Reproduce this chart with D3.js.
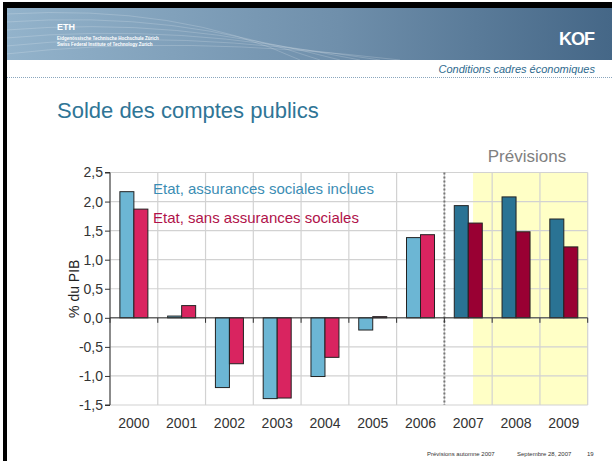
<!DOCTYPE html>
<html>
<head>
<meta charset="utf-8">
<script src="https://cdn.jsdelivr.net/npm/d3@7"></script>
<style>
  body { margin: 0; background: #fff; }
  svg { display: block; font-family: "Liberation Sans", Arial, sans-serif; }
</style>
</head>
<body>
<div id="chart"></div>
<script>
// data
const years = ["2000","2001","2002","2003","2004","2005","2006","2007","2008","2009"];
const avecAS = [2.17, 0.03, -1.20, -1.39, -1.01, -0.21, 1.38, 1.93, 2.08, 1.70];
const sansAS = [1.87, 0.21, -0.79, -1.38, -0.68, 0.02, 1.43, 1.63, 1.48, 1.22];
const yTicks = [-1.5, -1.0, -0.5, 0.0, 0.5, 1.0, 1.5, 2.0, 2.5];
const forecastYears = ["2008","2009"];  // shaded
const firstForecast = "2007";

const width = 612, height = 461;
const svg = d3.select("#chart").append("svg")
  .attr("width", width).attr("height", height);

// ****** page decoration (slide) ******
const defs = svg.append("defs");
const grad = defs.append("linearGradient").attr("id", "hdr").attr("x1", 0).attr("x2", 1);
grad.append("stop").attr("offset", "0%").attr("stop-color", "#93b3cb");
grad.append("stop").attr("offset", "55%").attr("stop-color", "#6f8fab");
grad.append("stop").attr("offset", "100%").attr("stop-color", "#456787");

svg.append("rect").attr("x", 6).attr("y", 7).attr("width", width - 6).attr("height", 53)
  .attr("fill", "url(#hdr)");
// some faint swoosh lines in the header
for (let i = 0; i < 6; i++) {
  svg.append("path")
    .attr("d", `M${6},${14 + i * 8} Q${180},${4 + i * 6} ${300 + i * 20},${60}`)
    .attr("fill", "none").attr("stroke", "#ffffff").attr("stroke-opacity", 0.18).attr("stroke-width", 1);
}
// borders
svg.append("rect").attr("x", 3).attr("y", 2).attr("width", width - 3).attr("height", 6).attr("fill", "#000");
svg.append("rect").attr("x", 3).attr("y", 2).attr("width", 4).attr("height", height - 2).attr("fill", "#000");

// ETH logo (tiny white text)
svg.append("text").attr("x", 57).attr("y", 30).attr("fill", "#fff")
  .style("font-size", "9px").style("font-weight", "bold").text("ETH");
svg.append("text").attr("x", 57).attr("y", 40).attr("fill", "#fff")
  .style("font-size", "4.5px").style("font-weight", "bold").text("Eidgenössische Technische Hochschule Zürich");
svg.append("text").attr("x", 57).attr("y", 46).attr("fill", "#fff")
  .style("font-size", "4.5px").style("font-weight", "bold").text("Swiss Federal Institute of Technology Zurich");

svg.append("text").attr("x", 594).attr("y", 45).attr("text-anchor", "end").attr("fill", "#fff")
  .style("font-size", "18px").style("font-weight", "bold").style("letter-spacing", "-1px").text("KOF");

svg.append("text").attr("x", 595).attr("y", 73).attr("text-anchor", "end").attr("fill", "#2e6a8e")
  .style("font-size", "11px").style("font-style", "italic").text("Conditions cadres économiques");
svg.append("line").attr("x1", 7).attr("x2", width).attr("y1", 77.5).attr("y2", 77.5)
  .attr("stroke", "#8aa6bd").attr("stroke-dasharray", "1,1");

svg.append("text").attr("x", 57).attr("y", 118).attr("fill", "#2f7596")
  .style("font-size", "22px").text("Solde des comptes publics");

svg.append("text").attr("x", 427).attr("y", 456).attr("fill", "#333")
  .style("font-size", "6px").text("Prévisions automne 2007");
svg.append("text").attr("x", 517).attr("y", 456).attr("fill", "#333")
  .style("font-size", "6px").text("Septembre 28, 2007");
svg.append("text").attr("x", 587).attr("y", 456).attr("fill", "#333")
  .style("font-size", "6px").text("19");

// ****** chart ******
const pLeft = 110, pRight = 587.7, pTop = 172.5, pBottom = 405;

const x = d3.scaleBand().domain(years).range([pLeft, pRight]).padding(0);
const y = d3.scaleLinear().domain([-1.5, 2.5]).range([pBottom, pTop]);
const step = x.bandwidth();
const xs = d3.scaleBand().domain(["a", "b"]).range([step / 2 - 14, step / 2 + 14]).padding(0);

const loc = d3.formatLocale({ decimal: ",", thousands: ".", grouping: [3], currency: ["", ""], minus: "-" });
const fmt = loc.format(".1f");

// yellow forecast area
const shadeX0 = x(forecastYears[0]) - step * 0.4;
svg.append("rect")
  .attr("x", shadeX0).attr("y", pTop)
  .attr("width", pRight - shadeX0).attr("height", pBottom - pTop)
  .attr("fill", "#ffffc6");

// grid
const g = svg.append("g");
g.selectAll(".hgrid").data(yTicks).join("line")
  .attr("x1", pLeft).attr("x2", pRight)
  .attr("y1", d => y(d)).attr("y2", d => y(d))
  .attr("stroke", "#d2d2d2").attr("stroke-width", 1.2);
g.selectAll(".vgrid").data(years.concat(["end"])).join("line")
  .attr("x1", d => d == "end" ? pRight : x(d)).attr("x2", d => d == "end" ? pRight : x(d))
  .attr("y1", pTop).attr("y2", pBottom)
  .attr("stroke", "#d2d2d2").attr("stroke-width", 1.2);

// bars
const bars = svg.append("g");
years.forEach((yr, i) => {
  const fc = yr >= firstForecast;
  const pair = [
    { k: "a", v: avecAS[i], c: fc ? "#2a7394" : "#6cb6d4" },
    { k: "b", v: sansAS[i], c: fc ? "#990033" : "#d92460" }
  ];
  bars.selectAll(null).data(pair).join("rect")
    .attr("x", d => x(yr) + xs(d.k))
    .attr("width", xs.bandwidth())
    .attr("y", d => y(Math.max(0, d.v)))
    .attr("height", d => Math.abs(y(d.v) - y(0)))
    .attr("fill", d => d.c)
    .attr("stroke", "#222").attr("stroke-width", 1);
});

// separator before forecasts
svg.append("line")
  .attr("x1", x(firstForecast)).attr("x2", x(firstForecast))
  .attr("y1", pTop).attr("y2", pBottom)
  .attr("stroke", "#777").attr("stroke-width", 2).attr("stroke-dasharray", "2,2");

// zero axis with ticks
const xAxis = svg.append("g").attr("transform", `translate(0,${y(0)})`)
  .call(d3.axisBottom(x).tickSize(0).tickFormat(""));
xAxis.select(".domain").attr("stroke", "#333").attr("d", `M${pLeft},0H${pRight}`);
xAxis.selectAll(".bt").data(years.concat(["end"])).join("line")
  .attr("x1", d => d == "end" ? pRight : x(d)).attr("x2", d => d == "end" ? pRight : x(d))
  .attr("y1", 0).attr("y2", 5).attr("stroke", "#333");

// year labels
svg.append("g").selectAll("text").data(years).join("text")
  .attr("x", d => x(d) + step / 2).attr("y", 428)
  .attr("text-anchor", "middle").attr("fill", "#333")
  .style("font-size", "14px").text(d => d);

// y axis
const yAxis = svg.append("g").attr("transform", `translate(${pLeft},0)`)
  .call(d3.axisLeft(y).tickValues(yTicks).tickSize(5).tickPadding(2).tickFormat(fmt));
yAxis.select(".domain").attr("stroke", "#333").attr("d", `M-5,${pTop}H0V${pBottom}H-5`);
yAxis.selectAll(".tick line").attr("stroke", "#333");
yAxis.selectAll(".tick text").attr("fill", "#333").style("font-size", "14px")
  .style("font-family", "'Liberation Sans', Arial, sans-serif");

svg.append("text")
  .attr("transform", `translate(79,${(pTop + pBottom) / 2}) rotate(-90)`)
  .attr("text-anchor", "middle").attr("fill", "#222")
  .style("font-size", "14px").text("% du PIB");

// legend labels
svg.append("text").attr("x", 153).attr("y", 194).attr("fill", "#3b8db4")
  .style("font-size", "15px").text("Etat, assurances sociales inclues");
svg.append("text").attr("x", 153).attr("y", 223).attr("fill", "#b0124a")
  .style("font-size", "15px").text("Etat, sans assurances sociales");

svg.append("text").attr("x", 527).attr("y", 162).attr("text-anchor", "middle").attr("fill", "#808080")
  .style("font-size", "17px").text("Prévisions");
</script>
</body>
</html>
